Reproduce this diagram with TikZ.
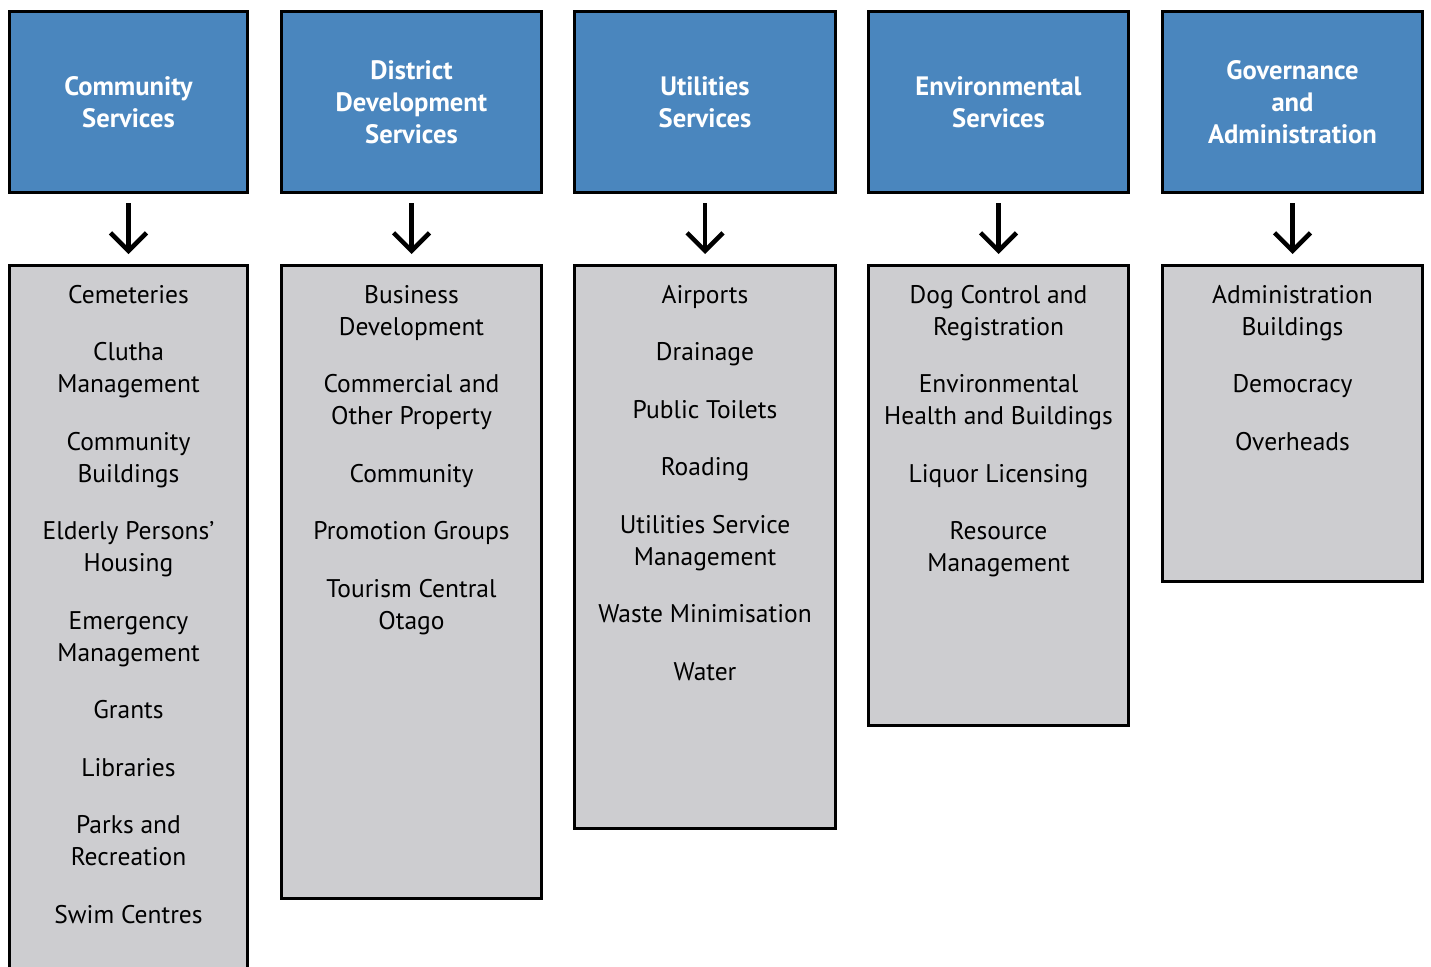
\documentclass[tikz,border=0pt]{standalone}
\usepackage{fontspec}
\setmainfont{PT Sans}
\usetikzlibrary{arrows.meta}
\definecolor{headblue}{RGB}{74,134,190}
\definecolor{listgray}{RGB}{205,205,208}

\begin{document}
\begin{tikzpicture}[x=1pt,y=-1pt,
  head/.style={draw=black, line width=2.6pt, fill=headblue, text=white,
    font=\fontsize{26.6}{32}\selectfont\bfseries, align=center, inner sep=0pt,
    minimum height=181.4pt},
  listbox/.style={draw=black, line width=2.8pt, fill=listgray, inner sep=0pt},
  items/.style={anchor=north, align=center, inner sep=0pt,
    font=\fontsize{25.5}{32}\selectfont},
  down/.style={line width=4.5pt, -{Straight Barb[length=18pt,width=36pt]},
    shorten <=9pt, shorten >=10pt}
]
\useasboundingbox (0,0) rectangle (1431,966);
\clip (0,0) rectangle (1431,966);

% group headings
\node[head, minimum width=238.4pt] (h1) at (128.5,102) {Community\\Services};
\node[head, minimum width=260.4pt] (h2) at (411.5,102) {District\\Development\\Services};
\node[head, minimum width=261.4pt] (h3) at (705,102) {Utilities\\Services};
\node[head, minimum width=260.4pt] (h4) at (998.5,102) {Environmental\\Services};
\node[head, minimum width=260.4pt] (h5) at (1292.5,102) {Governance\\and\\Administration};

% activity boxes
\node[listbox, minimum width=238.4pt, minimum height=733.2pt] (b1) at (128.5,632) {};
\node[listbox, minimum width=260.4pt, minimum height=633.2pt] (b2) at (411.5,582) {};
\node[listbox, minimum width=261.4pt, minimum height=563.2pt] (b3) at (705,547) {};
\node[listbox, minimum width=260.4pt, minimum height=460.2pt] (b4) at (998.5,495.5) {};
\node[listbox, minimum width=260.4pt, minimum height=316.2pt] (b5) at (1292.5,423.5) {};

% activity lists
\node[items] (t1) at (128.5,280.6) {\strut Cemeteries\\[25.5pt]
  Clutha\\Management\\[25.5pt]
  Community\\Buildings\\[25.5pt]
  Elderly Persons’\\Housing\\[25.5pt]
  Emergency\\Management\\[25.5pt]
  Grants\\[25.5pt]
  Libraries\\[25.5pt]
  Parks and\\Recreation\\[25.5pt]
  Swim Centres};
\node[items] (t2) at (411.5,280.6) {\strut Business\\Development\\[25.5pt]
  Commercial and\\Other Property\\[25.5pt]
  Community\\[25.5pt]
  Promotion Groups\\[25.5pt]
  Tourism Central\\Otago};
\node[items] (t3) at (705,280.6) {\strut Airports\\[25.5pt]
  Drainage\\[25.5pt]
  Public Toilets\\[25.5pt]
  Roading\\[25.5pt]
  Utilities Service\\Management\\[25.5pt]
  Waste Minimisation\\[25.5pt]
  Water};
\node[items] (t4) at (998.5,280.6) {\strut Dog Control and\\Registration\\[25.5pt]
  Environmental\\Health and Buildings\\[25.5pt]
  Liquor Licensing\\[25.5pt]
  Resource\\Management};
\node[items] (t5) at (1292.5,280.6) {\strut Administration\\Buildings\\[25.5pt]
  Democracy\\[25.5pt]
  Overheads};

% links from each heading to its activities
\foreach \i in {1,...,5}
  \draw[down] (h\i) -- (b\i);
\end{tikzpicture}
\end{document}
